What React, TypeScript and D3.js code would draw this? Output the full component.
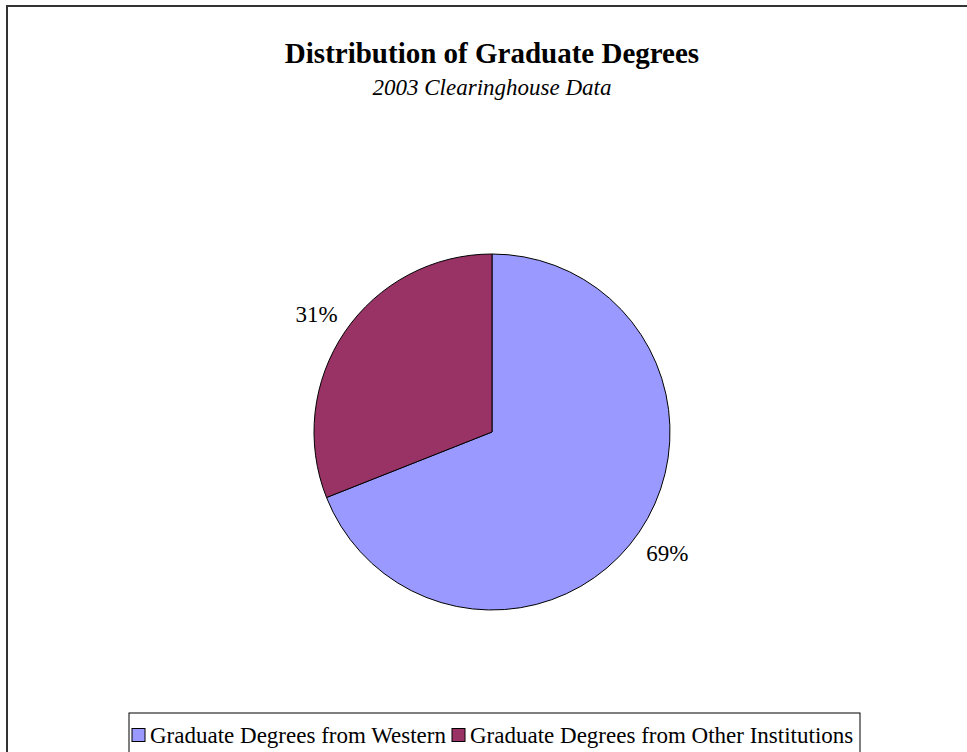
import { useMemo } from "react";
import * as d3 from "d3";

const WIDTH = 967;
const HEIGHT = 752;
const CENTER = { x: 492, y: 432 };
const RADIUS = 178;
const LABEL_RADIUS = 212;

const categories = [
  "Graduate Degrees from Western",
  "Graduate Degrees from Other Institutions",
];
const shares = [69, 31];
const percentLabels = ["69%", "31%"];
const colorList = ["#9999FF", "#993366"];

const FONT = "'Liberation Serif', 'Times New Roman', serif";

export default function App() {
  const colorScale = d3.scaleOrdinal<string>().domain(categories).range(colorList);

  const arcs = useMemo(() => {
    const pie = d3
      .pie<number>()
      .sort(null)
      .value((d) => d);
    return pie(shares);
  }, []);

  const arcGen = d3.arc<d3.PieArcDatum<number>>().innerRadius(0).outerRadius(RADIUS);
  const labelArc = d3
    .arc<d3.PieArcDatum<number>>()
    .innerRadius(LABEL_RADIUS)
    .outerRadius(LABEL_RADIUS);

  // legend layout
  const legendX = 129;
  const legendY = 713;
  const legendW = 731;
  const swatch = 13;
  const itemStarts = [132, 452];
  const rowY = 735;

  return (
    <svg
      width={WIDTH}
      height={HEIGHT}
      style={{ position: "absolute", left: 0, top: 0, background: "#fff" }}
      fontFamily={FONT}
    >
      <rect x={7} y={6} width={975} height={760} fill="#fff" stroke="#333" strokeWidth={2} />

      <text x={492} y={63} textAnchor="middle" fontSize={29} fontWeight="bold">
        Distribution of Graduate Degrees
      </text>
      <text x={492} y={95} textAnchor="middle" fontSize={23} fontStyle="italic">
        2003 Clearinghouse Data
      </text>

      <g transform={`translate(${CENTER.x},${CENTER.y})`}>
        {arcs.map((a, i) => (
          <path
            key={i}
            d={arcGen(a) || ""}
            fill={colorScale(categories[i])}
            stroke="#000"
            strokeWidth={1}
          />
        ))}
        {arcs.map((a, i) => {
          const [lx, ly] = labelArc.centroid(a);
          return (
            <text
              key={"l" + i}
              x={lx}
              y={ly + 2}
              textAnchor="middle"
              dominantBaseline="central"
              fontSize={23}
            >
              {percentLabels[i]}
            </text>
          );
        })}
      </g>

      <rect
        x={legendX}
        y={legendY}
        width={legendW}
        height={50}
        fill="#fff"
        stroke="#000"
        strokeWidth={1}
      />
      {categories.map((c, i) => (
        <g key={c}>
          <rect
            x={itemStarts[i]}
            y={rowY - swatch / 2}
            width={swatch}
            height={swatch}
            fill={colorScale(c)}
            stroke="#000"
            strokeWidth={1}
          />
          <text
            x={itemStarts[i] + swatch + 5}
            y={rowY}
            dominantBaseline="central"
            fontSize={23}
          >
            {c}
          </text>
        </g>
      ))}
    </svg>
  );
}
